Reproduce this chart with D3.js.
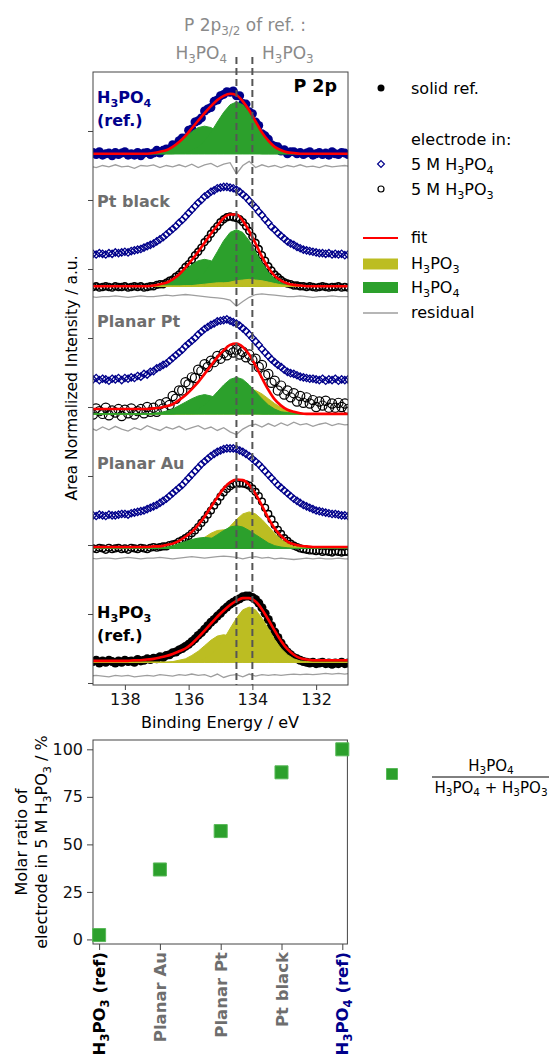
<!DOCTYPE html>
<html>
<head>
<meta charset="utf-8">
<script src="https://cdn.jsdelivr.net/npm/d3@7"></script>
<style>
  body { margin: 0; background: #fff; }
  svg { display: block; }
  text { font-family: "DejaVu Sans", sans-serif; }
</style>
</head>
<body>
<svg id="chart" width="550" height="1054"></svg>
<script>
// ---------- energy grids (eV) ----------
const energyFine = [139,138.9,138.8,138.7,138.6,138.5,138.4,138.3,138.2,138.1,138,137.9,137.8,137.7,137.6,137.5,137.4,137.3,137.2,137.1,137,136.9,136.8,136.7,136.6,136.5,136.4,136.3,136.2,136.1,136,135.9,135.8,135.7,135.6,135.5,135.4,135.3,135.2,135.1,135,134.9,134.8,134.7,134.6,134.5,134.4,134.3,134.2,134.1,134,133.9,133.8,133.7,133.6,133.5,133.4,133.3,133.2,133.1,133,132.9,132.8,132.7,132.6,132.5,132.4,132.3,132.2,132.1,132,131.9,131.8,131.7,131.6,131.5,131.4,131.3,131.2,131.1,131];
const energyCoarse = [139.1,138.9,138.7,138.5,138.3,138.1,137.9,137.7,137.5,137.3,137.1,136.9,136.7,136.5,136.3,136.1,135.9,135.7,135.5,135.3,135.1,134.9,134.7,134.5,134.3,134.1,133.9,133.7,133.5,133.3,133.1,132.9,132.7,132.5,132.3,132.1,131.9,131.7,131.5,131.3,131.1,130.9];

const energyTicks = [138, 136, 134, 132];
const refPeakPositions = [134.5, 134.0];      // P 2p3/2 of H3PO4 and H3PO3 references
const panelBaseline = [7.67, 5.75, 3.90, 1.95, 0.30];

// ---------- H3PO4 reference ----------
const refH3PO4Data = [.02,-.01,.03,-.02,.00,.01,-.03,.02,-.01,.01,.03,-.02,.00,-.02,.02,-.03,.01,.02,
  -.01,.01,.05,.01,.05,.07,.07,.13,.12,.19,.23,.23,.34,.36,.46,.48,.52,.62,.65,.67,.76,.78,.84,.86,.90,.89,.91,.84,.84,.73,.72,.61,.58,.46,.41,.29,.26,.21,.13,.11,.10,.04,.06,.00,.03,.03,.00,
  .02,-.01,.01,.03,-.02,.00,.02,-.01,.01,-.02,.03,.00,-.01,.02,.01,-.01];
const fitRefH3PO4 = [0,0,0,0,0,0,0,0,0,0,.01,.03,.05,.10,.17,.26,.37,.48,.59,.69,.78,.84,.87,.85,.76,.63,.47,.31,.19,.10,.05,.02,.01,0,0,0,0,0,0,0,0,0];
const resRefH3PO4 = [-.18,-.20,-.17,-.19,-.16,-.19,-.18,-.21,-.17,-.18,-.16,-.20,-.17,-.19,-.16,-.19,-.15,-.20,-.16,-.14,-.19,-.15,-.13,-.29,-.17,-.11,-.20,-.16,-.19,-.17,-.20,-.17,-.19,-.16,-.19,-.18,-.20,-.17,-.19,-.18,-.17,-.19];
const refPO4P32 = [0,0,0,0,0,0,0,0,0,0,0,0,0, 0,.01,.02,.05,.10,.19,.31,.46,.60,.71,.75,.71,.60,.46,.31,.19,.10,.05,.02,.01,0, 0,0,0,0,0,0,0,0];
const refPO4P12 = [0,0,0,0,0,0,0,0, 0,0,.01,.03,.05,.10,.16,.24,.32,.38,.40,.38,.32,.24,.16,.10,.05,.03,.01,0,0, 0,0,0,0,0,0,0,0,0,0,0,0,0];

// ---------- Pt black ----------
const ptBlackPO4Data = [.47,.46,.48,.47,.46,.48,.47,.49,.48,.49,.50,.49,.51,.52,.53,.54,.56,.58,.60,.62,.65,.68,.71,.75,.79,.83,.87,.92,.96,1.01,1.06,1.11,1.16,1.21,1.25,1.30,1.33,1.37,1.39,1.42,1.43,1.44,1.44,1.43,1.42,1.40,1.37,1.33,1.29,1.24,1.19,1.14,1.08,1.03,.97,.92,.86,.82,.77,.73,.69,.65,.62,.60,.57,.55,.53,.52,.51,.50,.49,.48,.48,.47,.48,.46,.47,.46,.47,.45,.46];
const ptBlackPO3Data = [-.01,.00,-.02,-.01,.00,-.01,-.02,.00,-.01,-.01,.00,-.02,-.01,.00,-.01,.00,-.02,-.01,.00,.00,.02,.03,.03,.05,.08,.10,.14,.17,.22,.28,.32,.38,.45,.50,.56,.64,.69,.76,.82,.87,.93,.97,1.00,1.01,1.00,.99,.97,.93,.87,.80,.72,.63,.54,.45,.37,.29,.23,.17,.13,.09,.06,.04,.03,.01,.01,.00,.00,-.01,.00,-.01,-.02,-.01,.00,-.01,-.02,-.01,-.01,.00,-.02,-.01,-.02];
const fitPtBlack = [0,0,0,0,0,0,0,0,0,0,.01,.03,.05,.10,.17,.27,.38,.50,.63,.76,.88,.99,1.04,1.04,.95,.80,.62,.43,.27,.15,.08,.04,.02,.01,0,0,0,0,0,0,0,0];
const resPtBlack = [-.15,-.16,-.15,-.15,-.14,-.15,-.16,-.15,-.14,-.15,-.15,-.14,-.13,-.14,-.13,-.12,-.13,-.14,-.15,-.16,-.17,-.18,-.20,-.29,-.22,-.16,-.12,-.11,-.12,-.13,-.14,-.15,-.15,-.14,-.15,-.16,-.15,-.15,-.14,-.15,-.15,-.15];
const ptBlackPO4P32 = [0,0,0,0,0,0,0,0,0,0,0,0,0, 0,.01,.02,.05,.11,.20,.34,.50,.66,.78,.82,.78,.66,.50,.34,.20,.11,.05,.02,.01,0, 0,0,0,0,0,0,0,0];
const ptBlackPO4P12 = [0,0,0,0,0,0,0,0, 0,0,.01,.03,.05,.10,.16,.24,.31,.37,.39,.37,.31,.24,.16,.10,.05,.03,.01,0,0, 0,0,0,0,0,0,0,0,0,0,0,0,0];
const ptBlackPO3P32 = [0,0,0,0,0,0,0,0,0,0,0,0,0,0,0, 0,0,0,.01,.01,.02,.04,.06,.08,.09,.10,.09,.08,.06,.04,.02,.01,.01,0,0,0, 0,0,0,0,0,0];
const ptBlackPO3P12 = [0,0,0,0,0,0,0,0,0,0,0, 0,0,0,0,.01,.01,.02,.03,.04,.05,.05,.05,.04,.03,.02,.01,.01,0,0,0,0, 0,0,0,0,0,0,0,0,0,0];

// ---------- Planar Pt ----------
const planarPtPO4Data = [.50,.52,.49,.51,.50,.48,.51,.50,.52,.49,.52,.51,.53,.52,.55,.54,.58,.57,.61,.62,.66,.68,.71,.73,.77,.81,.85,.89,.93,.98,1.02,1.06,1.10,1.15,1.19,1.23,1.26,1.29,1.31,1.34,1.35,1.36,1.37,1.35,1.33,1.31,1.28,1.24,1.20,1.15,1.10,1.05,1.00,.94,.89,.84,.79,.75,.71,.68,.64,.61,.59,.58,.56,.54,.53,.52,.51,.51,.50,.49,.51,.48,.50,.49,.51,.48,.50,.49,.50];
const planarPtPO3Data = [-.01,.08,.04,.00,.09,-.02,.05,.02,.07,-.03,.06,.01,.08,-.01,.04,.07,.01,.10,.03,.09,.03,.14,.08,.17,.13,.26,.22,.34,.34,.46,.43,.53,.52,.64,.62,.72,.68,.77,.75,.84,.80,.88,.85,.93,.89,.93,.86,.90,.82,.86,.78,.80,.68,.71,.56,.58,.45,.48,.34,.41,.28,.34,.24,.30,.18,.26,.16,.24,.15,.20,.10,.18,.12,.19,.09,.15,.09,.16,.10,.15,.07];
const fitPlanarPt = [.07,.07,.07,.07,.07,.07,.07,.07,.07,.07,.08,.09,.11,.14,.20,.27,.36,.46,.58,.70,.82,.92,1.00,1.02,.97,.86,.70,.52,.35,.21,.12,.06,.03,.01,0,0,0,0,0,0,0,0];
const resPlanarPt = [-.20,-.24,-.19,-.23,-.18,-.22,-.25,-.20,-.23,-.17,-.21,-.24,-.19,-.22,-.18,-.23,-.20,-.17,-.22,-.19,-.24,-.20,-.26,-.30,-.22,-.17,-.15,-.19,-.14,-.18,-.13,-.17,-.12,-.16,-.14,-.18,-.15,-.13,-.17,-.14,-.16,-.15];
const planarPtPO4P32 = [0,0,0,0,0,0,0,0,0,0,0,0,0, 0,.01,.02,.03,.07,.13,.22,.32,.42,.50,.53,.50,.42,.32,.22,.13,.07,.03,.02,.01,0, 0,0,0,0,0,0,0,0];
const planarPtPO4P12 = [0,0,0,0,0,0,0,0, 0,0,.01,.02,.04,.07,.12,.17,.22,.26,.28,.26,.22,.17,.12,.07,.04,.02,.01,0,0, 0,0,0,0,0,0,0,0,0,0,0,0,0];
const planarPtPO3P32 = [0,0,0,0,0,0,0,0,0,0,0,0,0,0,0, 0,0,.01,.02,.05,.09,.15,.22,.29,.34,.36,.34,.29,.22,.15,.09,.05,.02,.01,0,0, 0,0,0,0,0,0];
const planarPtPO3P12 = [0,0,0,0,0,0,0,0,0,0,0, 0,0,.01,.01,.02,.04,.07,.11,.14,.17,.18,.17,.14,.11,.07,.04,.02,.01,.01,0,0, 0,0,0,0,0,0,0,0,0,0];

// ---------- Planar Au ----------
const planarAuPO4Data = [.48,.47,.49,.48,.47,.49,.48,.48,.49,.50,.50,.49,.51,.52,.53,.54,.55,.57,.59,.61,.63,.66,.69,.72,.76,.80,.84,.88,.92,.97,1.02,1.07,1.12,1.17,1.22,1.26,1.30,1.34,1.37,1.40,1.42,1.44,1.45,1.45,1.45,1.44,1.42,1.40,1.37,1.34,1.30,1.26,1.22,1.17,1.12,1.07,1.02,.97,.92,.88,.84,.80,.76,.72,.69,.66,.63,.61,.59,.57,.55,.54,.53,.52,.51,.50,.50,.49,.48,.48,.47];
const planarAuPO3Data = [.00,-.01,.01,.00,-.02,.01,-.01,.00,.01,-.01,.00,-.02,.01,.00,-.01,.01,.00,-.01,.01,.02,.01,.02,.03,.03,.05,.06,.07,.10,.12,.15,.18,.22,.26,.31,.37,.42,.49,.55,.62,.68,.75,.81,.86,.90,.93,.94,.94,.94,.93,.91,.87,.82,.76,.68,.59,.50,.42,.34,.27,.21,.15,.11,.07,.04,.02,.00,-.01,-.02,-.03,-.03,-.04,-.03,-.05,-.04,-.05,-.06,-.04,-.05,-.06,-.05,-.05];
const fitPlanarAu = [.02,.02,.02,.02,.02,.02,.02,.02,.02,.02,.03,.03,.05,.07,.11,.17,.24,.34,.46,.60,.74,.87,.96,1.00,.99,.92,.79,.62,.44,.29,.18,.10,.06,.04,.03,.02,.02,.02,.02,.02,.02,.02];
const resPlanarAu = [-.14,-.15,-.14,-.14,-.15,-.14,-.13,-.14,-.15,-.14,-.14,-.13,-.14,-.15,-.14,-.13,-.12,-.13,-.14,-.13,-.12,-.11,-.12,-.13,-.15,-.13,-.12,-.14,-.13,-.15,-.14,-.15,-.16,-.15,-.14,-.15,-.14,-.15,-.15,-.14,-.15,-.15];
const planarAuPO4P32 = [0,0,0,0,0,0,0,0,0,0,0,0,0, 0,0,.01,.02,.04,.08,.14,.20,.26,.31,.33,.31,.26,.20,.14,.08,.04,.02,.01,0,0, 0,0,0,0,0,0,0,0];
const planarAuPO4P12 = [0,0,0,0,0,0,0,0, 0,0,.01,.01,.02,.04,.07,.10,.13,.15,.16,.15,.13,.10,.07,.04,.02,.01,.01,0,0, 0,0,0,0,0,0,0,0,0,0,0,0,0];
const planarAuPO3P32 = [0,0,0,0,0,0,0,0,0,0,0,0,0,0,0, 0,.01,.02,.03,.07,.13,.22,.32,.42,.50,.53,.50,.42,.32,.22,.13,.07,.03,.02,.01,0, 0,0,0,0,0,0];
const planarAuPO3P12 = [0,0,0,0,0,0,0,0,0,0,0, 0,0,.01,.02,.04,.07,.11,.16,.22,.26,.27,.26,.22,.16,.11,.07,.04,.02,.01,0,0, 0,0,0,0,0,0,0,0,0,0];

// ---------- H3PO3 reference ----------
const refH3PO3Data = [.01,.03,-.01,.02,.00,.03,.01,-.01,.02,.00,.03,.01,.02,.00,.04,.02,.03,.05,.04,.06,.05,.08,.07,.10,.11,.14,.15,.18,.20,.23,.26,.30,.34,.39,.43,.48,.53,.58,.62,.67,.71,.76,.80,.84,.87,.90,.92,.95,.96,.96,.94,.91,.86,.79,.71,.62,.53,.44,.36,.28,.21,.15,.11,.07,.05,.03,.01,.00,-.01,.00,-.02,-.01,.00,-.02,-.01,-.03,-.01,-.02,.00,-.02,-.01];
const fitRefH3PO3 = [.02,.02,.02,.02,.02,.02,.02,.03,.03,.04,.05,.07,.09,.12,.16,.20,.27,.36,.46,.56,.66,.75,.83,.89,.93,.93,.88,.77,.62,.46,.31,.19,.11,.06,.04,.03,.03,.03,.03,.03,.03,.03];
const resRefH3PO3 = [-.20,-.19,-.20,-.21,-.19,-.20,-.19,-.21,-.20,-.19,-.20,-.18,-.19,-.20,-.18,-.19,-.17,-.19,-.18,-.21,-.17,-.22,-.19,-.18,-.21,-.17,-.20,-.18,-.19,-.18,-.19,-.18,-.17,-.18,-.17,-.18,-.17,-.16,-.17,-.16,-.17,-.16];
const refPO3P32 = [0,0,0,0,0,0,0,0,0,0,0,0,0,0,0, 0,.01,.02,.05,.11,.20,.33,.49,.64,.76,.80,.76,.64,.49,.33,.20,.11,.05,.02,.01,0, 0,0,0,0,0,0];
const refPO3P12 = [0,0,0,0,0,0,0,0,0,0,0, 0,0,.01,.03,.05,.10,.16,.24,.32,.38,.40,.38,.32,.24,.16,.10,.05,.03,.01,0,0, 0,0,0,0,0,0,0,0,0,0];

// ---------- molar ratio ----------
const ratioCategories = ["H_3PO_3 (ref)", "Planar Au", "Planar Pt", "Pt black", "H_3PO_4 (ref)"];
const ratioValues = [2.3, 36.8, 57.0, 87.9, 100];
const ratioTicks = [0, 25, 50, 75, 100];

// ---------- styling ----------
const NAVY = "#00008b", GREEN = "#2ca02c", OLIVE = "#bcbd22", RED = "#ff0000",
      RESID = "#9e9e9e", LABEL_GRAY = "#6e6e6e", HEAD_GRAY = "#8a8a8a", FRAME = "#444";

const svg = d3.select("#chart");

// text with "_x" / "_{..}" subscripts
function richText(sel, str, size) {
  const re = /_\{([^}]*)\}|_(.)/g;
  const parts = [];
  let last = 0, m;
  while ((m = re.exec(str))) {
    if (m.index > last) parts.push({ t: str.slice(last, m.index), sub: false });
    parts.push({ t: m[1] !== undefined ? m[1] : m[2], sub: true });
    last = re.lastIndex;
  }
  if (last < str.length) parts.push({ t: str.slice(last), sub: false });
  let down = false;
  parts.forEach(p => {
    const ts = sel.append("tspan").text(p.t);
    if (p.sub) {
      ts.attr("font-size", size * 0.7);
      if (!down) { ts.attr("dy", size * 0.22); down = true; }
    } else if (down) {
      ts.attr("dy", -size * 0.22); down = false;
    }
  });
  return sel;
}
function label(x, yy, str, size, opts = {}) {
  const t = svg.append("text").attr("x", x).attr("y", yy)
    .attr("font-size", size)
    .attr("fill", opts.fill || "#000")
    .attr("font-weight", opts.bold ? "bold" : null)
    .attr("text-anchor", opts.anchor || "start")
    .attr("font-family", opts.family || null);
  if (opts.rotate) t.attr("transform", `rotate(${opts.rotate},${x},${yy})`);
  return richText(t, str, size);
}

// =================== XPS panel ===================
const x = d3.scaleLinear().domain([139, 131]).range([93, 348]);
const y = d3.scaleLinear().domain([-0.029, 8.855]).range([685, 72]);

svg.append("clipPath").attr("id", "plotClip")
  .append("rect").attr("x", 93).attr("y", 72).attr("width", 255).attr("height", 613);
const plot = svg.append("g").attr("clip-path", "url(#plotClip)");

const panels = [
  { base: panelBaseline[0], solid: refH3PO4Data, solidColor: NAVY, fit: fitRefH3PO4, res: resRefH3PO4,
    fills: [[refPO4P12, GREEN], [refPO4P32, GREEN]] },
  { base: panelBaseline[1], po4: ptBlackPO4Data, po3: ptBlackPO3Data, r: 3.4, sw: 1.6, fit: fitPtBlack, res: resPtBlack,
    fills: [[ptBlackPO4P12, GREEN], [ptBlackPO4P32, GREEN], [ptBlackPO3P12, OLIVE], [ptBlackPO3P32, OLIVE]] },
  { base: panelBaseline[2], po4: planarPtPO4Data, po3: planarPtPO3Data, r: 4.6, sw: 1.2, fit: fitPlanarPt, res: resPlanarPt,
    fills: [[planarPtPO3P12, OLIVE], [planarPtPO3P32, OLIVE], [planarPtPO4P12, GREEN], [planarPtPO4P32, GREEN]] },
  { base: panelBaseline[3], po4: planarAuPO4Data, po3: planarAuPO3Data, r: 3.4, sw: 1.4, fit: fitPlanarAu, res: resPlanarAu,
    fills: [[planarAuPO3P12, OLIVE], [planarAuPO3P32, OLIVE], [planarAuPO4P12, GREEN], [planarAuPO4P32, GREEN]] },
  { base: panelBaseline[4], solid: refH3PO3Data, solidColor: "#000", fit: fitRefH3PO3, res: resRefH3PO3,
    fills: [[refPO3P12, OLIVE], [refPO3P32, OLIVE]] }
];

const diamond = d3.symbol().type(d3.symbolDiamond2).size(34);

panels.forEach(p => {
  const g = plot.append("g");
  if (p.po4) {
    g.append("g").selectAll("path").data(p.po4).join("path")
      .attr("d", diamond)
      .attr("transform", (d, i) => `translate(${x(energyFine[i])},${y(p.base + d)})`)
      .attr("fill", "none").attr("stroke", NAVY).attr("stroke-width", 1.3);
    g.append("g").selectAll("circle").data(p.po3).join("circle")
      .attr("cx", (d, i) => x(energyFine[i])).attr("cy", d => y(p.base + d))
      .attr("r", p.r).attr("fill", "none").attr("stroke", "#000").attr("stroke-width", p.sw);
  }
  if (p.solid) {
    g.append("g").selectAll("circle").data(p.solid).join("circle")
      .attr("cx", (d, i) => x(energyFine[i])).attr("cy", d => y(p.base + d))
      .attr("r", 4.5).attr("fill", p.solidColor);
  }
  p.fills.forEach(([vals, col]) => {
    const area = d3.area()
      .x((d, i) => x(energyCoarse[i]))
      .y0(y(p.base)).y1(d => y(p.base + d));
    g.append("path").attr("d", area(vals)).attr("fill", col)
      .attr("stroke", col).attr("stroke-width", 1);
  });
  const line = d3.line().x((d, i) => x(energyCoarse[i])).y(d => y(p.base + d));
  g.append("path").attr("d", line.curve(d3.curveMonotoneX)(p.fit))
    .attr("fill", "none").attr("stroke", RED).attr("stroke-width", 2.6);
  g.append("path").attr("d", d3.line().x((d, i) => x(energyCoarse[i])).y(d => y(p.base + d))(p.res))
    .attr("fill", "none").attr("stroke", RESID).attr("stroke-width", 1.3);
});

// frame
svg.append("rect").attr("x", 93).attr("y", 72).attr("width", 255).attr("height", 613)
  .attr("fill", "none").attr("stroke", FRAME).attr("stroke-width", 1);

// axes
svg.append("g").attr("transform", "translate(0,685)")
  .call(d3.axisBottom(x).tickValues(energyTicks).tickSize(5).tickPadding(4).tickFormat(d3.format("d")))
  .call(g => g.select(".domain").remove())
  .call(g => g.selectAll("line").attr("stroke", FRAME))
  .call(g => g.selectAll("text").attr("font-size", 16).attr("font-family", "DejaVu Sans").attr("fill", "#111"));
svg.append("g").attr("transform", "translate(93,0)")
  .call(d3.axisLeft(y).tickValues(d3.range(0, 9)).tickSize(5).tickFormat(""))
  .call(g => g.select(".domain").remove())
  .call(g => g.selectAll("line").attr("stroke", FRAME));

label(220, 728, "Binding Energy / eV", 16, { anchor: "middle" });
label(77, 378, "Area Normalized Intensity / a.u.", 15.5, { anchor: "middle", rotate: -90 });

// reference positions
svg.append("g").selectAll("line").data(refPeakPositions).join("line")
  .attr("x1", d => x(d)).attr("x2", d => x(d)).attr("y1", 57).attr("y2", 685)
  .attr("stroke", "#555").attr("stroke-width", 2).attr("stroke-dasharray", "7,4");

// header
label(245, 31, "P 2p_{3/2} of ref. :", 17, { anchor: "middle", fill: HEAD_GRAY, family: "Lato" });
label(227, 59, "H_3PO_4", 17, { anchor: "end", fill: HEAD_GRAY, family: "Lato" });
label(262, 59, "H_3PO_3", 17, { anchor: "start", fill: HEAD_GRAY, family: "Lato" });

// panel labels
label(337, 92, "P 2p", 17.5, { anchor: "end", bold: true });
label(97, 103, "H_3PO_4", 16, { bold: true, fill: NAVY });
label(97, 126, "(ref.)", 16, { bold: true, fill: NAVY });
label(97, 207, "Pt black", 16, { bold: true, fill: LABEL_GRAY });
label(97, 327, "Planar Pt", 16, { bold: true, fill: LABEL_GRAY });
label(97, 469, "Planar Au", 16, { bold: true, fill: LABEL_GRAY });
label(97, 618, "H_3PO_3", 16, { bold: true });
label(97, 641, "(ref.)", 16, { bold: true });

// legend
const lg = svg.append("g");
lg.append("circle").attr("cx", 381).attr("cy", 88).attr("r", 3.5).attr("fill", "#000");
label(411, 94, "solid ref.", 16);
label(411, 145, "electrode in:", 16);
lg.append("path").attr("d", d3.symbol().type(d3.symbolDiamond2).size(30)())
  .attr("transform", "translate(381,164)").attr("fill", "none").attr("stroke", NAVY).attr("stroke-width", 1.2);
label(411, 170, "5 M H_3PO_4", 16);
lg.append("circle").attr("cx", 381).attr("cy", 189).attr("r", 3).attr("fill", "none").attr("stroke", "#000").attr("stroke-width", 1.2);
label(411, 195, "5 M H_3PO_3", 16);
lg.append("line").attr("x1", 363).attr("x2", 398).attr("y1", 238).attr("y2", 238).attr("stroke", RED).attr("stroke-width", 2);
label(411, 243, "fit", 16);
lg.append("rect").attr("x", 363).attr("y", 258.5).attr("width", 35).attr("height", 11).attr("fill", OLIVE);
label(411, 269, "H_3PO_3", 16);
lg.append("rect").attr("x", 363).attr("y", 282).attr("width", 35).attr("height", 11).attr("fill", GREEN);
label(411, 293, "H_3PO_4", 16);
lg.append("line").attr("x1", 363).attr("x2", 398).attr("y1", 313).attr("y2", 313).attr("stroke", RESID).attr("stroke-width", 1.5);
label(411, 318, "residual", 16);

// =================== molar ratio panel ===================
const xr = d3.scalePoint().domain(ratioCategories).range([99.1, 342.3]);
const yr = d3.scaleLinear().domain([-2.4, 104.9]).range([944, 740]);

svg.append("rect").attr("x", 93).attr("y", 740).attr("width", 254.4).attr("height", 204)
  .attr("fill", "none").attr("stroke", FRAME).attr("stroke-width", 1);

svg.append("g").attr("transform", "translate(93,0)")
  .call(d3.axisLeft(yr).tickValues(ratioTicks).tickSize(6).tickPadding(4))
  .call(g => g.select(".domain").remove())
  .call(g => g.selectAll("line").attr("stroke", FRAME))
  .call(g => g.selectAll("text").attr("font-size", 16).attr("font-family", "DejaVu Sans").attr("fill", "#111"));

svg.append("g").attr("transform", "translate(0,944)")
  .call(d3.axisBottom(xr).tickSize(6).tickFormat(""))
  .call(g => g.select(".domain").remove())
  .call(g => g.selectAll("line").attr("stroke", FRAME));

const catColors = ["#000", LABEL_GRAY, LABEL_GRAY, LABEL_GRAY, NAVY];
ratioCategories.forEach((c, i) => {
  label(xr(c) + 6, 952, c, 16.5, { anchor: "end", bold: true, rotate: -90, fill: catColors[i] });
});

svg.append("g").selectAll("path").data(ratioValues).join("path")
  .attr("d", d3.symbol().type(d3.symbolSquare).size(170)())
  .attr("transform", (d, i) => `translate(${xr(ratioCategories[i])},${yr(d)})`)
  .attr("fill", GREEN).attr("stroke", "#58b858").attr("stroke-width", 1);

label(27, 842, "Molar ratio of", 16, { anchor: "middle", rotate: -90 });
label(47, 842, "electrode in 5 M H_3PO_3 / %", 16, { anchor: "middle", rotate: -90 });

// fraction legend
svg.append("path").attr("d", d3.symbol().type(d3.symbolSquare).size(120)())
  .attr("transform", "translate(392,774)").attr("fill", GREEN).attr("stroke", "#58b858");
label(491, 771, "H_3PO_4", 15, { anchor: "middle" });
svg.append("line").attr("x1", 432).attr("x2", 549).attr("y1", 777).attr("y2", 777).attr("stroke", "#000").attr("stroke-width", 1);
label(491, 793, "H_3PO_4 + H_3PO_3", 15, { anchor: "middle" });
</script>
</body>
</html>
